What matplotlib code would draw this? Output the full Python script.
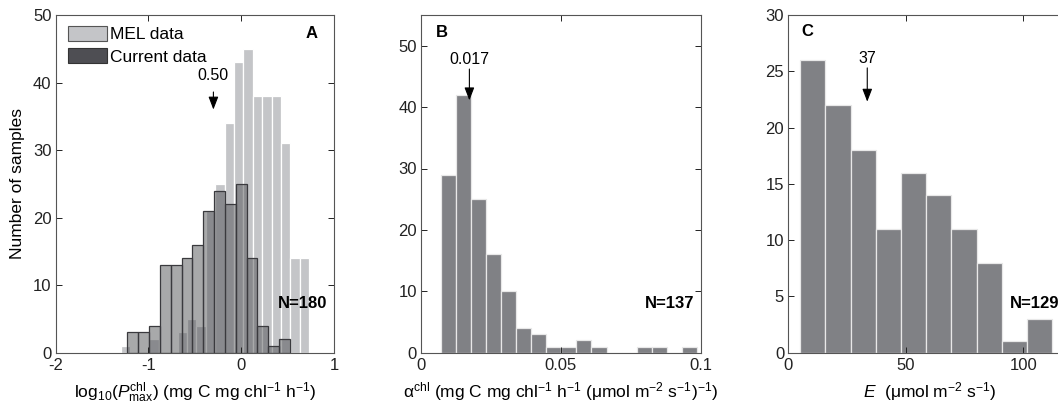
import numpy as np
import matplotlib
matplotlib.use("Agg")
import matplotlib.pyplot as plt
from matplotlib.patches import Patch

plt.rcParams['font.family'] = ['Liberation Sans', 'DejaVu Sans']
plt.rcParams['mathtext.fontset'] = 'custom'
plt.rcParams['mathtext.rm'] = 'Liberation Sans'
plt.rcParams['mathtext.it'] = 'Liberation Sans:italic'
plt.rcParams['mathtext.bf'] = 'Liberation Sans:bold'
plt.rcParams['axes.unicode_minus'] = False
plt.rcParams['font.size'] = 12

# panel A: MEL data (log10 Pmax), 20 bins
mel_lo, mel_hi = -1.296, 0.734
mel_counts = [1, 0, 0, 2, 0, 0, 3, 5, 4, 21, 25, 34, 43, 45, 38, 38, 38, 31, 14, 14]

# panel A: current data, 15 bins
cur_lo, cur_hi = -1.228, 0.525
cur_counts = [3, 3, 4, 13, 13, 14, 16, 21, 24, 22, 25, 14, 4, 1, 2]

# panel B: alpha chl, 17 bins
alpha_lo, alpha_hi = 0.00704, 0.0987
alpha_counts = [29, 42, 25, 16, 10, 4, 3, 1, 1, 2, 1, 0, 0, 1, 1, 0, 1]

# panel C: E, 10 bins
e_lo, e_hi = 5.0, 112.4
e_counts = [26, 22, 18, 11, 16, 14, 11, 8, 1, 3]

mel_color = '#c4c5c8'
cur_color = (0.29, 0.295, 0.31, 0.48)
bar_color = '#808185'


def hist_from_counts(ax, lo, hi, counts, **kw):
    edges = np.linspace(lo, hi, len(counts) + 1)
    ax.hist(edges[:-1], bins=edges, weights=counts, histtype='bar', **kw)


def style(ax):
    ax.tick_params(direction='in', length=4, width=0.7, top=True, right=True,
                   labelsize=12, colors='#222222', pad=3)
    ax.tick_params(axis='x', pad=4)
    for s in ax.spines.values():
        s.set_color('#555555')
        s.set_linewidth(0.8)


def arrow(ax, x, y0, y1, label, ylab):
    ax.annotate('', xy=(x, y1), xytext=(x, y0),
                arrowprops=dict(arrowstyle='-|>,head_length=0.65,head_width=0.25',
                                color='k', lw=0.8, shrinkA=0, shrinkB=0))
    ax.text(x, ylab, label, ha='center', va='center', fontsize=11.5)


fig = plt.figure(figsize=(10.58, 4.07), dpi=100)
W, H = 1058.0, 407.0

# ---- A
axA = fig.add_axes([55.7 / W, (H - 352.7) / H, 278.3 / W, 337.7 / H])
hist_from_counts(axA, mel_lo, mel_hi, mel_counts, color=mel_color,
                 edgecolor='white', linewidth=0.9)
hist_from_counts(axA, cur_lo, cur_hi, cur_counts, facecolor=cur_color,
                 edgecolor='#3a3a3e', linewidth=0.9)
axA.set_xlim(-2, 1)
axA.set_ylim(0, 50)
axA.set_xticks([-2, -1, 0, 1])
axA.set_yticks([0, 10, 20, 30, 40, 50])
style(axA)
axA.set_ylabel('Number of samples', fontsize=12.5, labelpad=6)
axA.set_xlabel(r'log$_{10}$($P^{\rm chl}_{\rm max}$) (mg C mg chl$^{-1}$ h$^{-1}$)',
               fontsize=12.5, labelpad=5)
axA.text(0.76, 47.2, 'A', fontweight='bold', ha='center', va='center', fontsize=12)
axA.text(0.40, 7.3, 'N=180', fontweight='bold', ha='left', va='center', fontsize=12)
arrow(axA, -0.30, 38.6, 36.0, '0.50', 41.0)
handles = [Patch(facecolor=mel_color, edgecolor='#555555', linewidth=0.8),
           Patch(facecolor='#4e4e53', edgecolor='#333333', linewidth=0.8)]
axA.legend(handles, ['MEL data', 'Current data'], loc='upper left',
           bbox_to_anchor=(0.045, 0.968), frameon=False, borderpad=0,
           borderaxespad=0, handlelength=2.25, handleheight=0.95,
           handletextpad=0.15, labelspacing=0.35, fontsize=12.5)

# ---- B
axB = fig.add_axes([421.0 / W, (H - 352.7) / H, 279.7 / W, 337.7 / H])
hist_from_counts(axB, alpha_lo, alpha_hi, alpha_counts, color=bar_color,
                 edgecolor='#e8e8e8', linewidth=0.9)
axB.set_xlim(0, 0.1)
axB.set_ylim(0, 55)
axB.set_xticks([0, 0.05, 0.1])
axB.set_xticklabels(['0', '0.05', '0.1'])
axB.set_yticks([0, 10, 20, 30, 40, 50])
style(axB)
axB.set_xlabel('α$^{\\rm chl}$ (mg C mg chl$^{-1}$ h$^{-1}$ (μmol m$^{-2}$ s$^{-1}$)$^{-1}$)',
               fontsize=12.5, labelpad=5)
axB.text(0.0074, 52.1, 'B', fontweight='bold', ha='center', va='center', fontsize=12)
axB.text(0.0801, 8.0, 'N=137', fontweight='bold', ha='left', va='center', fontsize=12)
arrow(axB, 0.0173, 46.2, 41.1, '0.017', 47.8)

# ---- C
axC = fig.add_axes([788.3 / W, (H - 352.7) / H, 282.0 / W, 337.7 / H])
hist_from_counts(axC, e_lo, e_hi, e_counts, color=bar_color,
                 edgecolor='#e8e8e8', linewidth=0.9)
axC.set_xlim(0, 120)
axC.set_ylim(0, 30)
axC.set_xticks([0, 50, 100])
axC.set_yticks([0, 5, 10, 15, 20, 25, 30])
style(axC)
axC.set_xlabel('$E$  (μmol m$^{-2}$ s$^{-1}$)', fontsize=12.5, labelpad=5)
axC.text(8.3, 28.5, 'C', fontweight='bold', ha='center', va='center', fontsize=12)
axC.text(94.3, 4.4, 'N=129', fontweight='bold', ha='left', va='center', fontsize=12)
arrow(axC, 33.6, 25.3, 22.3, '37', 26.1)

fig.savefig('out.png', dpi=100)
